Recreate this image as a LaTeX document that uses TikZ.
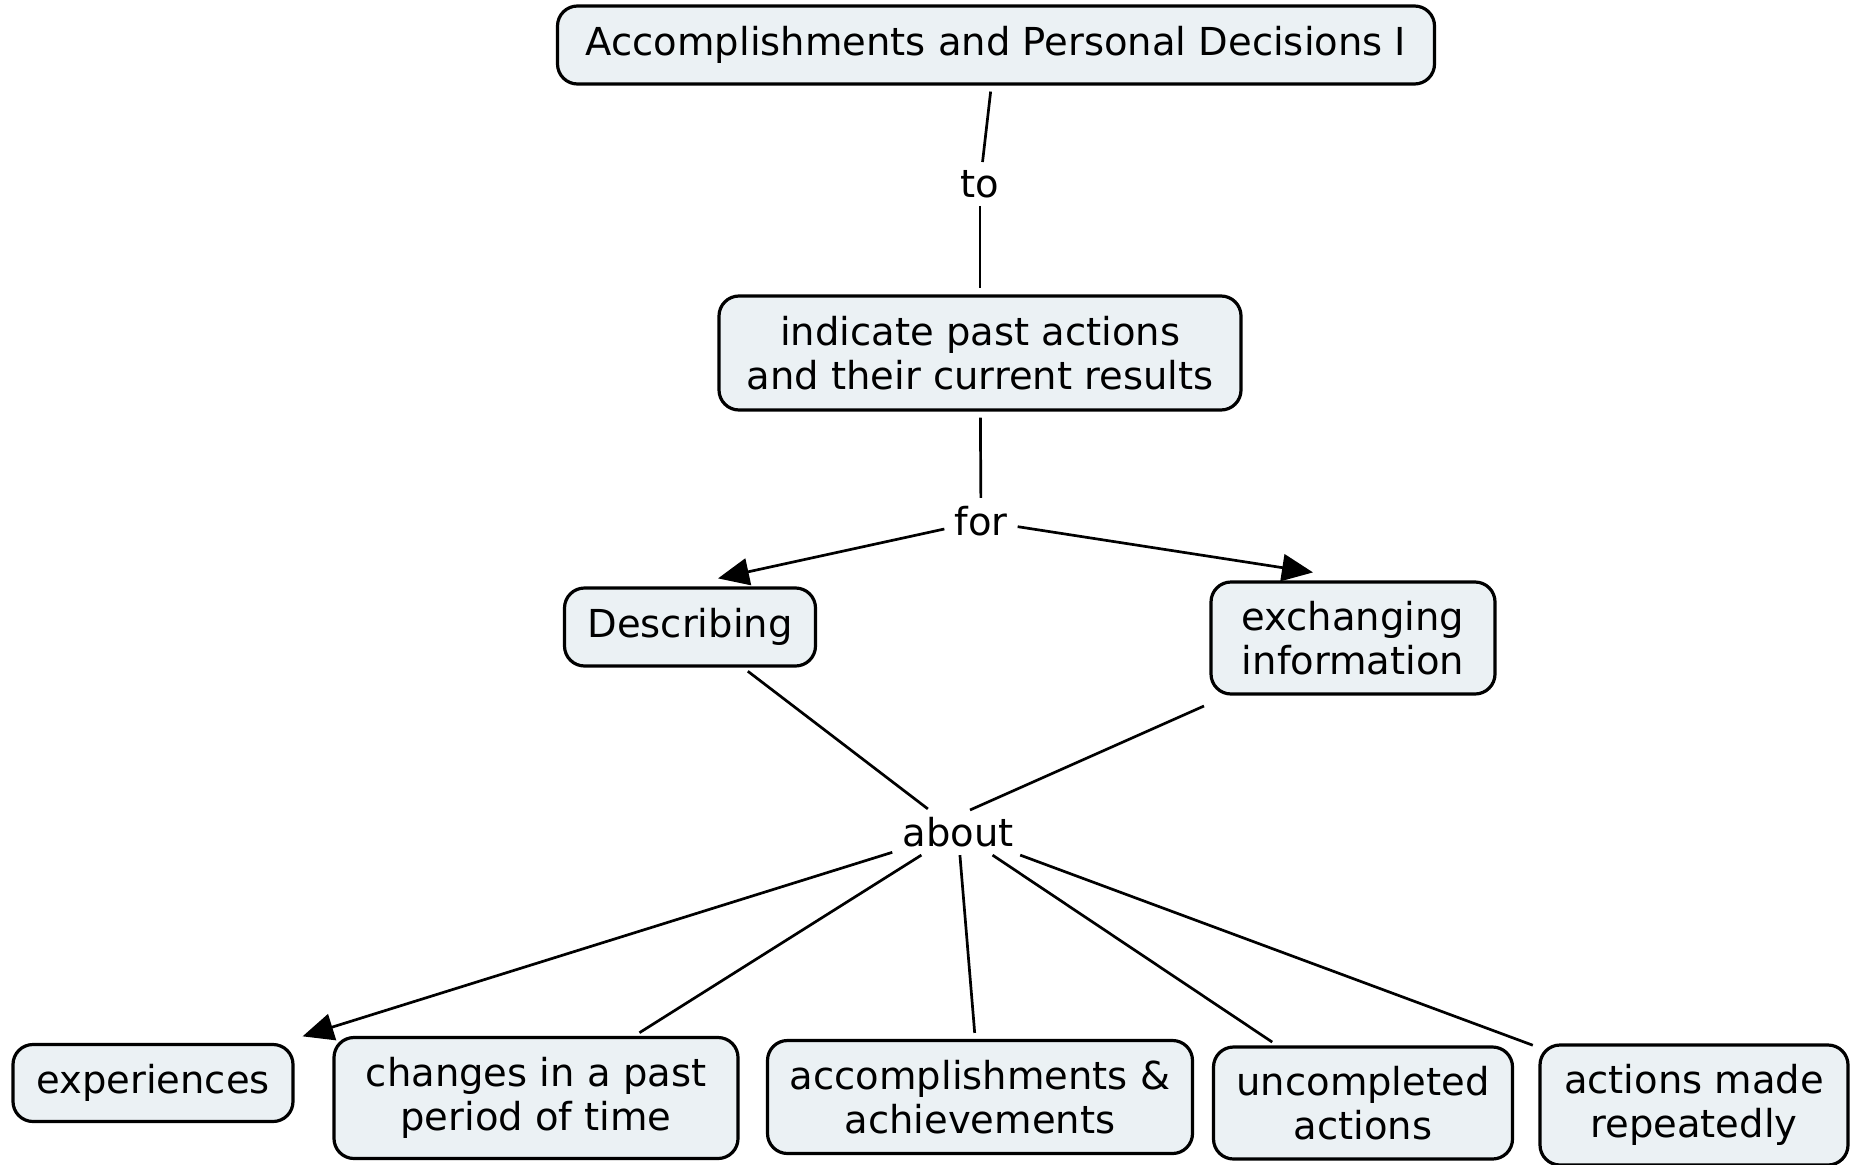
\documentclass[tikz,border=0pt]{standalone}
\usepackage{fontspec}
\setmainfont{DejaVu Sans}
\usetikzlibrary{arrows.meta}
\definecolor{cfill}{RGB}{235,241,244}
\begin{document}
\begin{tikzpicture}[x=1pt,y=-1pt,
  concept/.style={draw, line width=3.2pt, rounded corners=20pt, fill=cfill,
    align=center, inner sep=0pt, font=\fontsize{38.5}{43.5}\selectfont},
  linkword/.style={inner xsep=10pt, inner ysep=8pt, font=\fontsize{38.5}{43.5}\selectfont},
  plain/.style={line width=2.7pt},
  ctol/.style={line width=2.7pt, shorten <=6pt},
  ltoc/.style={line width=2.7pt, shorten >=6pt},
  arr/.style={line width=2.7pt, -{Triangle[length=31pt,width=27pt]}}]
\useasboundingbox (0,0) rectangle (1851,1164);

\node[concept, minimum width=877pt, minimum height=78pt] (top) at (996,45) {Accomplishments and Personal Decisions I};
\node[linkword] (to) at (980,184) {to};
\node[concept, minimum width=522pt, minimum height=114pt] (ind) at (980,353) {indicate past actions\\and their current results};
\node[linkword] (for) at (981,521) {for};
\node[concept, minimum width=251pt, minimum height=78pt] (desc) at (690,627) {Describing};
\node[concept, minimum width=284pt, minimum height=112pt] (exch) at (1353,638) {exchanging\\information};
\node[linkword] (about) at (958,832) {about};
\node[concept, minimum width=280pt, minimum height=77pt] (exp) at (153,1083) {experiences};
\node[concept, minimum width=404pt, minimum height=121pt] (chg) at (536,1098) {changes in a past\\period of time};
\node[concept, minimum width=425pt, minimum height=113pt] (acc) at (980,1097) {accomplishments \&\\achievements};
\node[concept, minimum width=299pt, minimum height=112pt] (unc) at (1363,1103) {uncompleted\\actions};
\node[concept, minimum width=308pt, minimum height=120pt] (rep) at (1694,1105) {actions made\\repeatedly};

\draw[ctol] (top) -- (to);
\draw[ltoc] (to) -- (ind);
\draw[ctol] (ind) -- (for);
\draw[arr] (for) -- ([shift={(28,-8)}]desc.north);
\draw[arr] (for) -- ([shift={(-40,-8)}]exch.north);
\draw[ctol] (desc) -- (about);
\draw[plain] ([shift={(-149,68)}]exch.center) -- ([shift={(12,-22)}]about.center);
\draw[arr, shorten >=22pt] (about) -- (exp);
\draw[ltoc] (about) -- (chg);
\draw[ltoc] (about) -- (acc);
\draw[ltoc] (about) -- (unc);
\draw[ltoc] (about) -- (rep);
\end{tikzpicture}
\end{document}
